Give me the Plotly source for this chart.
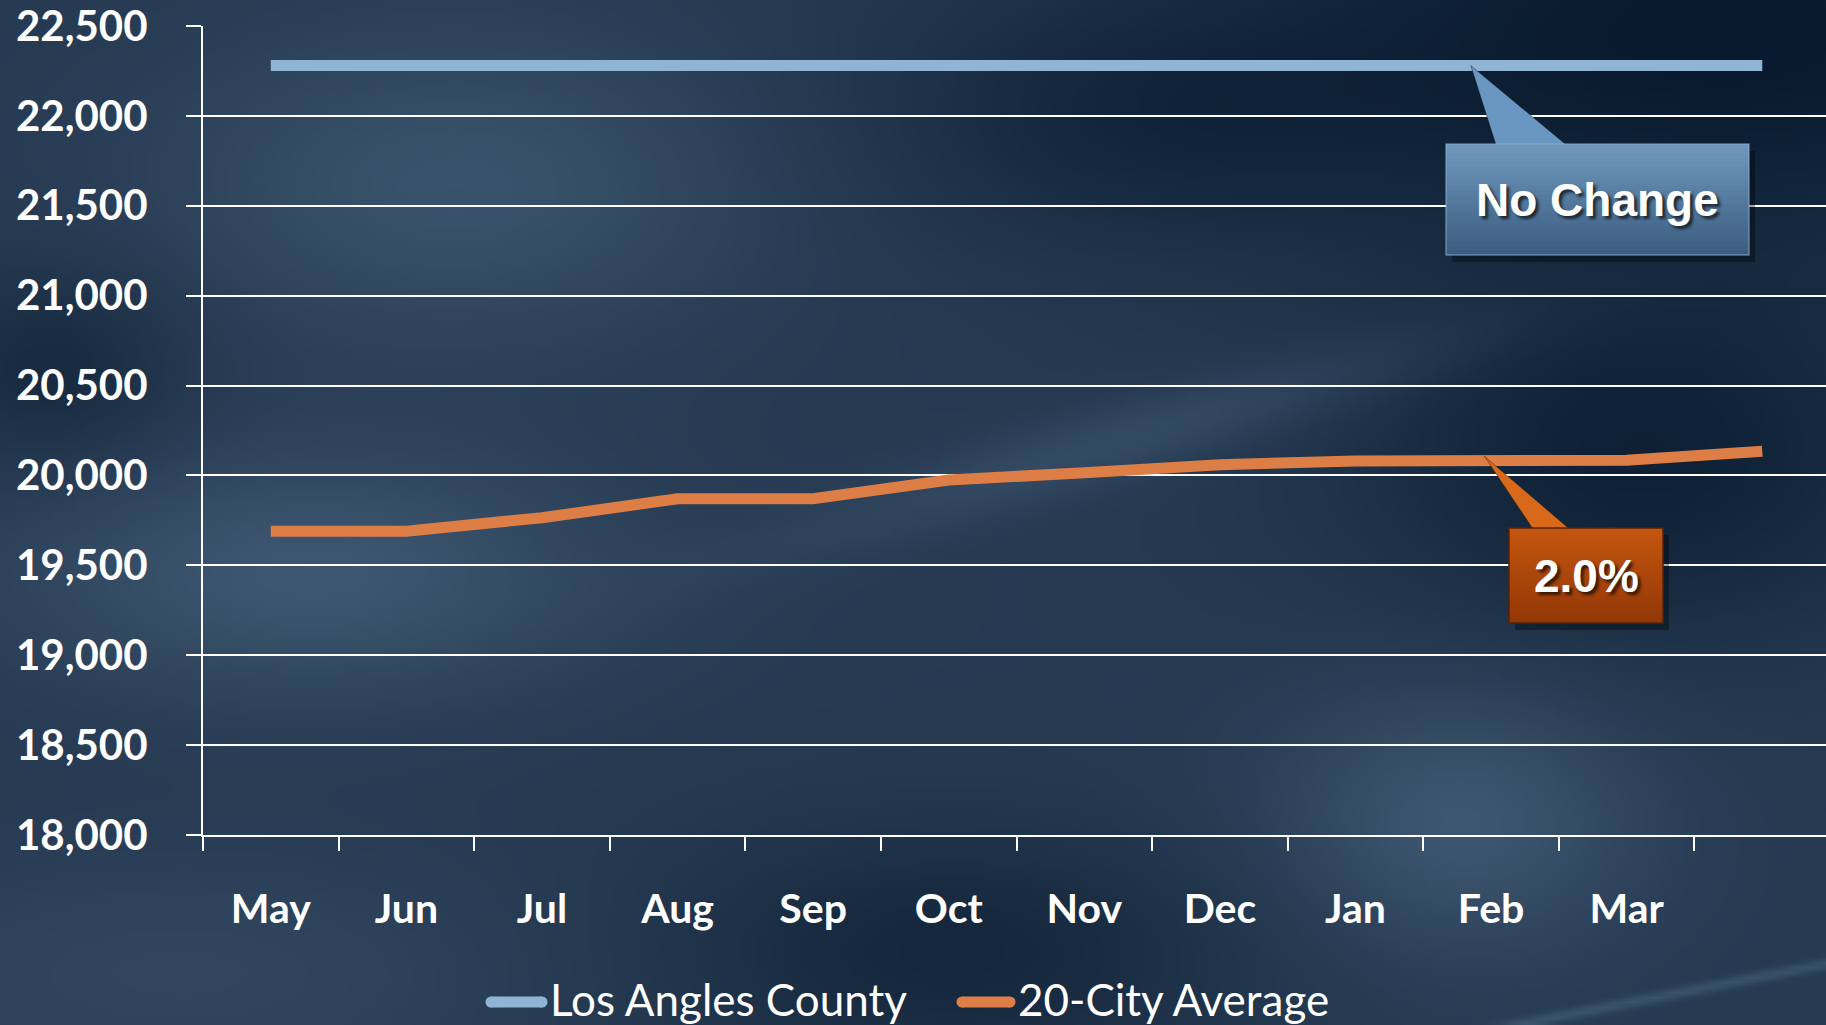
import base64, struct, zlib
import numpy as np
import plotly.graph_objects as go

# ---------------- data ----------------
months = ["May", "Jun", "Jul", "Aug", "Sep", "Oct", "Nov", "Dec", "Jan", "Feb", "Mar", "Apr"]
tick_labels = ["May", "Jun", "Jul", "Aug", "Sep", "Oct", "Nov", "Dec", "Jan", "Feb", "Mar", ""]
la_county = [22280, 22280, 22280, 22280, 22280, 22280, 22280, 22280, 22280, 22280, 22280, 22280]
city_avg = [19690, 19690, 19765, 19870, 19870, 19975, 20015, 20060, 20080, 20085, 20085, 20135]
series_names = ["Los Angles County", "20-City Average"]
series_colors = ["#8fb4d4", "#dd7e46"]
y_ticks = [18000, 18500, 19000, 19500, 20000, 20500, 21000, 21500, 22000, 22500]
callout_texts = ["No Change", "2.0%"]

# ---------------- layout constants ----------------
W, H = 1826, 1025
ML, MR, MT, MB = 203, 0, 26, 190
PW, PH = W - ML - MR, H - MT - MB
YMIN, YMAX = y_ticks[0], y_ticks[-1]
XMIN, XMAX = -0.5, len(months) - 0.53


def hx(px):  # page px -> paper x
    return (px - ML) / PW


def hy(py):  # page px (from top) -> paper y
    return (H - MB - py) / PH


# ---------------- background image ----------------
def make_bg(w=366, h=205):
    u = (np.arange(w) + 0.5)[None, :] / w
    v = (np.arange(h) + 0.5)[:, None] / h

    def g(cu, cv, su, sv):
        return np.exp(-(((u - cu) / su) ** 2 + ((v - cv) / sv) ** 2))

    f = 0.42 + 0 * u
    f = f + 0.30 * g(0.25, 0.18, 0.16, 0.15)
    f = f + 0.35 * g(0.17, 0.56, 0.16, 0.12)
    f = f + 0.35 * g(0.80, 0.80, 0.10, 0.13)
    f = f + 0.15 * g(0.10, 0.95, 0.2, 0.12)
    f = f - 0.42 * g(0.95, 0.03, 0.30, 0.22)
    f = f - 0.32 * g(0.90, 0.45, 0.16, 0.18)
    f = f - 0.22 * g(0.03, 0.36, 0.07, 0.10)
    f = f - 0.25 * g(0.52, 0.93, 0.16, 0.12)
    f = f - 0.18 * g(0.62, 0.12, 0.15, 0.12)
    # diagonal soft streak
    d = ((u - 0.45) * 0.48 + (v - 0.52) * 0.88)
    along = ((u - 0.62) * 0.88 - (v - 0.42) * 0.48)
    f = f + 0.22 * np.exp(-(d / 0.035) ** 2) * np.exp(-(along / 0.22) ** 2)
    # thin bright line bottom right
    d2 = ((u - 0.83) * 0.33 + (v - 1.0) * 0.94)
    f = f + 0.30 * np.exp(-(d2 / 0.005) ** 2) * (u > 0.8)
    f = np.clip(f, 0, 1)
    dark = np.array([9, 26, 46], float)
    light = np.array([78, 104, 132], float)
    img = dark[None, None, :] + f[:, :, None] * (light - dark)[None, None, :]
    img = np.clip(img, 0, 255).astype(np.uint8)

    raw = b"".join(b"\x00" + img[r].tobytes() for r in range(h))

    def chunk(t, data):
        c = struct.pack(">I", len(data)) + t + data
        return c + struct.pack(">I", zlib.crc32(t + data) & 0xffffffff)

    png = b"\x89PNG\r\n\x1a\n" + chunk(b"IHDR", struct.pack(">IIBBBBB", w, h, 8, 2, 0, 0, 0)) \
        + chunk(b"IDAT", zlib.compress(raw, 9)) + chunk(b"IEND", b"")
    return "data:image/png;base64," + base64.b64encode(png).decode()


# ---------------- figure ----------------
fig = go.Figure()
for name, ys, col in zip(series_names, [la_county, city_avg], series_colors):
    fig.add_trace(go.Scatter(x=months, y=ys, name=name, mode="lines",
                             line=dict(color=col, width=11), showlegend=False))

shapes = []
ann = []


def lerp(c1, c2, t):
    return "rgb(%d,%d,%d)" % tuple(round(a + (b - a) * t) for a, b in zip(c1, c2))


def callout(box, base, tip, c_top, c_bot, c_ptr, border, text):
    x0, x1, y0, y1 = box  # paper coords, y0 top, y1 bottom
    # shadow
    shapes.append(dict(type="rect", xref="paper", yref="paper",
                       x0=x0 + 6 / PW, x1=x1 + 6 / PW, y0=y0 - 7 / PH, y1=y1 - 7 / PH,
                       fillcolor="rgba(0,0,0,0.35)", line=dict(width=0), layer="above"))
    # pointer
    shapes.append(dict(type="path", xref="paper", yref="paper",
                       path="M %f,%f L %f,%f L %f,%f Z" % (base[0], y0 - 4 / PH, tip[0], tip[1], base[1], y0 - 4 / PH),
                       fillcolor=c_ptr, line=dict(width=0.8, color="rgba(20,20,20,0.5)"), layer="above"))
    n = 24
    for i in range(n):
        ya = y0 + (y1 - y0) * i / n
        shapes.append(dict(type="rect", xref="paper", yref="paper", x0=x0, x1=x1, y0=ya, y1=y1,
                           fillcolor=lerp(c_top, c_bot, (i + 0.5) / n), line=dict(width=0), layer="above"))
    shapes.append(dict(type="rect", xref="paper", yref="paper", x0=x0, x1=x1, y0=y0, y1=y1,
                       fillcolor="rgba(0,0,0,0)", line=dict(width=1.5, color=border), layer="above"))
    ann.append(dict(xref="paper", yref="paper", x=(x0 + x1) / 2, y=(y0 + y1) / 2, text=text,
                    showarrow=False, xanchor="center", yanchor="middle",
                    font=dict(family="Liberation Sans", size=46, color="white", weight=700,
                              shadow="3px 3px 3px rgba(0,0,0,0.65)")))


def data_x(idx):
    return (idx - XMIN) / (XMAX - XMIN)


def data_y(val):
    return (val - YMIN) / (YMAX - YMIN)


callout((hx(1446), hx(1749), hy(144), hy(255)), (hx(1497), hx(1570)),
        (data_x(8.85), data_y(la_county[9])),
        (112, 152, 190), (58, 92, 127), "#6a97c1", "rgba(140,175,210,0.6)", callout_texts[0])
callout((hx(1509), hx(1663), hy(528), hy(623)), (hx(1535), hx(1573)),
        (data_x(8.95), data_y(city_avg[9]) + 4 / PH),
        (196, 86, 14), (146, 55, 7), "#d8691a", "#5a2205", callout_texts[1])

# custom legend (thick swatches like the reference)
legend_y = hy(999)
for name, col, sx0, sx1, tx in zip(series_names, series_colors, [491, 962], [542, 1010], [548, 1016]):
    shapes.append(dict(type="line", xref="paper", yref="paper", x0=hx(sx0), x1=hx(sx1),
                       y0=hy(1002), y1=hy(1002), line=dict(color=col, width=11)))
    shapes.append(dict(type="circle", xref="paper", yref="paper", x0=hx(sx0 - 5.5), x1=hx(sx0 + 5.5),
                       y0=hy(1002 - 5.5), y1=hy(1002 + 5.5), fillcolor=col, line=dict(width=0)))
    shapes.append(dict(type="circle", xref="paper", yref="paper", x0=hx(sx1 - 5.5), x1=hx(sx1 + 5.5),
                       y0=hy(1002 - 5.5), y1=hy(1002 + 5.5), fillcolor=col, line=dict(width=0)))
    ann.append(dict(xref="paper", yref="paper", x=hx(tx), y=legend_y, text=name, showarrow=False,
                    xanchor="left", yanchor="middle",
                    font=dict(family="Lato", size=44, color="white")))

xtickfont = dict(family="Lato", size=41, color="white", weight=700)
ytickfont = dict(family="Lato", size=42, color="white", weight=700)

fig.update_layout(
    width=W, height=H,
    margin=dict(l=ML, r=MR, t=MT, b=MB, autoexpand=False),
    paper_bgcolor="#1e3653", plot_bgcolor="rgba(0,0,0,0)",
    showlegend=False,
    xaxis=dict(type="category", range=[XMIN, XMAX], tickmode="array",
               tickvals=months, ticktext=tick_labels, tickson="boundaries",
               ticks="outside", ticklen=14, tickwidth=2, tickcolor="white",
               showline=True, linecolor="white", linewidth=2, showgrid=False,
               tickfont=xtickfont, ticklabelstandoff=37),
    yaxis=dict(range=[YMIN, YMAX], tickmode="array", tickvals=y_ticks, tickformat=",",
               ticks="outside", ticklen=15, tickwidth=2, tickcolor="white",
               showline=True, linecolor="white", linewidth=2, showgrid=True,
               gridcolor="white", gridwidth=2, zeroline=False, ticklabeloverflow="allow",
               tickfont=ytickfont, ticklabelstandoff=30),
    shapes=shapes,
    annotations=ann,
    images=[dict(source=make_bg(), xref="paper", yref="paper", x=-ML / PW, y=1 + MT / PH,
                 sizex=W / PW, sizey=H / PH, xanchor="left", yanchor="top",
                 sizing="stretch", layer="below")],
)

fig.write_html("out.html", config={"displayModeBar": False},
               post_script="document.body.style.margin='0';document.body.style.overflow='hidden';")
